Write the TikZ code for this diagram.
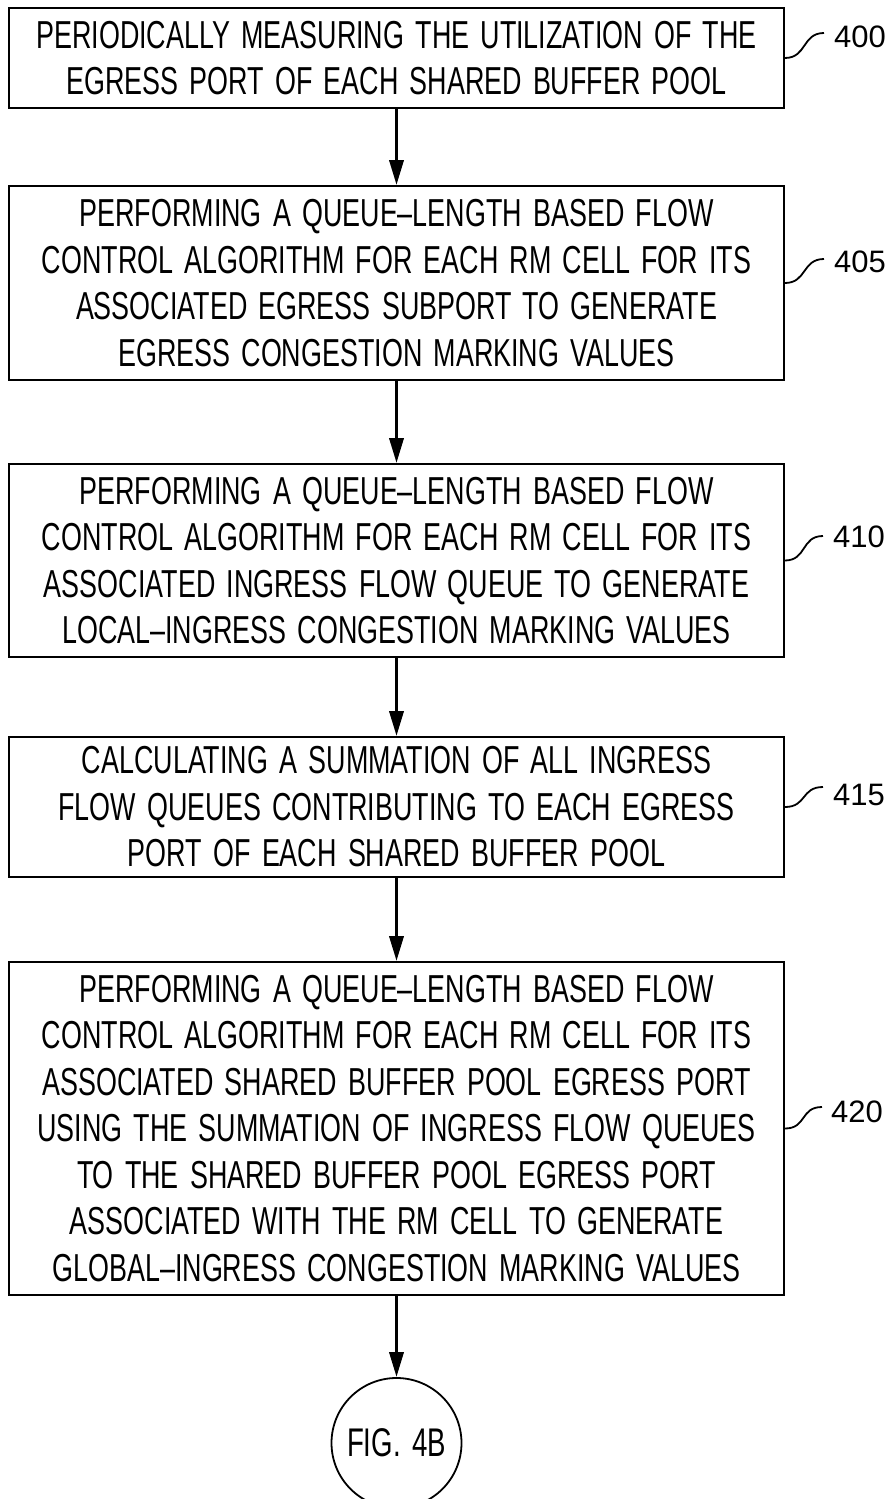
\documentclass[tikz,border=0pt]{standalone}
\usepackage{fontspec}
\usetikzlibrary{arrows.meta}
\newfontfamily\pf{Liberation Sans}[FakeStretch=0.69,WordSpace=1.5]
\newfontfamily\lf{Liberation Sans}
\begin{document}
\begin{tikzpicture}[x=1pt,y=-1pt,
  box/.style={draw,line width=1.8pt,minimum width=775pt,inner sep=0pt,align=center,
    font={\pf\fontsize{39}{46.5}\selectfont}},
  endc/.style={draw,circle,line width=1.8pt,minimum size=130pt,inner sep=0pt,
    font={\pf\fontsize{40}{46.5}\selectfont}},
  arr/.style={line width=3.5pt,-{Triangle[length=25pt,width=14pt]}},
  lead/.style={line width=1.8pt},
  lbl/.style={anchor=west,inner sep=0pt,font={\lf\fontsize{31}{34}\selectfont}}]
\useasboundingbox (0,0) rectangle (887,1499);
\clip (0,0) rectangle (887,1499);
\fill[white] (0,0) rectangle (887,1499);

\node[box,minimum height=100pt] (b1) at (396.5,58)
  {PERIODICALLY MEASURING THE UTILIZATION OF THE\\EGRESS PORT OF EACH SHARED BUFFER POOL};
\node[box,minimum height=194pt] (b2) at (396.5,283)
  {PERFORMING A QUEUE–LENGTH BASED FLOW\\CONTROL ALGORITHM FOR EACH RM CELL FOR ITS\\ASSOCIATED EGRESS SUBPORT TO GENERATE\\EGRESS CONGESTION MARKING VALUES};
\node[box,minimum height=193pt] (b3) at (396.5,560.5)
  {PERFORMING A QUEUE–LENGTH BASED FLOW\\CONTROL ALGORITHM FOR EACH RM CELL FOR ITS\\ASSOCIATED INGRESS FLOW QUEUE TO GENERATE\\LOCAL–INGRESS CONGESTION MARKING VALUES};
\node[box,minimum height=140pt] (b4) at (396.5,807)
  {CALCULATING A SUMMATION OF ALL INGRESS\\FLOW QUEUES CONTRIBUTING TO EACH EGRESS\\PORT OF EACH SHARED BUFFER POOL};
\node[box,minimum height=333pt] (b5) at (396.5,1128.5)
  {PERFORMING A QUEUE–LENGTH BASED FLOW\\CONTROL ALGORITHM FOR EACH RM CELL FOR ITS\\ASSOCIATED SHARED BUFFER POOL EGRESS PORT\\USING THE SUMMATION OF INGRESS FLOW QUEUES\\TO THE SHARED BUFFER POOL EGRESS PORT\\ASSOCIATED WITH THE RM CELL TO GENERATE\\GLOBAL–INGRESS CONGESTION MARKING VALUES};
\node[endc] (c) at (396.5,1443) {FIG. 4B};

\draw[arr] (b1) -- (b2);
\draw[arr] (b2) -- (b3);
\draw[arr] (b3) -- (b4);
\draw[arr] (b4) -- (b5);
\draw[arr] (b5) -- (c);

\node[lbl] (l1) at (834,37) {400};
\node[lbl] (l2) at (834,262) {405};
\node[lbl] (l3) at (833,537) {410};
\node[lbl] (l4) at (833,795) {415};
\node[lbl] (l5) at (831,1112) {420};
\coordinate (h1) at (824,33);
\coordinate (h2) at (824,259);
\coordinate (h3) at (823,536);
\coordinate (h4) at (823,787);
\coordinate (h5) at (822,1107);
\draw[lead] (b1.east) .. controls +(22,0) and +(-22,0) .. (h1);
\draw[lead] (b2.east) .. controls +(22,0) and +(-22,0) .. (h2);
\draw[lead] (b3.east) .. controls +(22,0) and +(-22,0) .. (h3);
\draw[lead] (b4.east) .. controls +(22,0) and +(-22,0) .. (h4);
\draw[lead] (b5.east) .. controls +(22,0) and +(-22,0) .. (h5);
\end{tikzpicture}
\end{document}
